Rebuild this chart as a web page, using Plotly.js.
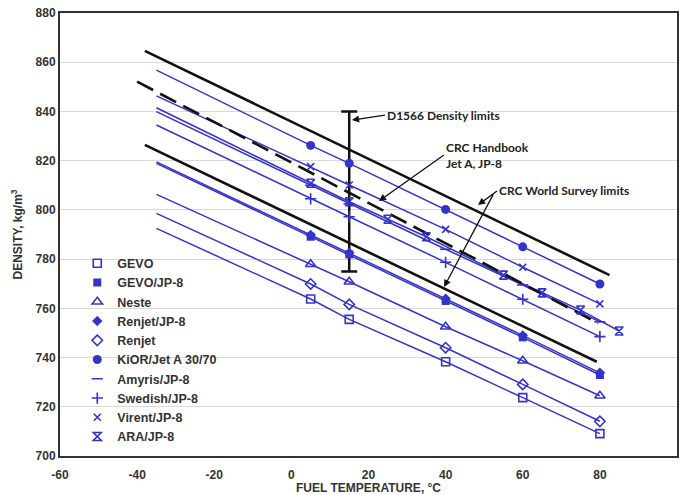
<!DOCTYPE html>
<html><head><meta charset="utf-8">
<script src="https://cdn.plot.ly/plotly-3.0.1.min.js"></script>
<style>html,body{margin:0;padding:0;background:#fff}#chart{width:685px;height:495px}</style>
</head><body><div id="chart"></div>
<script>
// ---- data ----
const temps = [5, 15, 40, 60, 80];
const gevo      = [763.8, 755.5, 738.3, 723.7, 709.1];
const gevoJP8   = [789.1, 781.9, 763.0, 748.2, 732.9];
const neste     = [777.9, 770.8, 752.5, 738.7, 724.5];
const renjetJP8 = [789.8, 782.6, 763.9, 749.0, 733.8];
const renjet    = [769.9, 761.6, 744.0, 729.1, 714.1];
const kior      = [826.2, 818.9, 800.2, 785.0, 769.9];
const amyris    = [810.0, 802.5, 784.0, 769.5, 754.5];
const swedish   = [804.5, 797.2, 778.7, 763.7, 748.5];
const virent    = [817.6, 810.1, 792.1, 776.7, 761.8];
const araTemps  = [5, 15, 25, 35, 55, 65, 75, 85];
const ara       = [810.8, 803.3, 796.2, 789.1, 773.5, 766.3, 759.3, 750.8];

// fitted-line start (extrapolated lines drawn in the source) at -35 °C
const lineStartT = -35;
const lineStart = {
  gevo: 792.5, gevoJP8: 818.9, neste: 806.3, renjetJP8: 819.5, renjet: 798.6,
  kior: 856.8, amyris: 839.9, swedish: 834.5, virent: 846.3, ara: 841.5
};

// CRC limits
const crcUpperT = [-38, 82.5], crcUpper = [864.6, 773.5];
const crcLowerT = [-38, 79.2], crcLower = [826.4, 738.3];
const handbookT = [-40, 79.6], handbook = [852.1, 753.9];
// D1566 density limits bar
const d1566T = 15, d1566Low = 775, d1566High = 840;

const seriesNames = ['GEVO','GEVO/JP-8','Neste','Renjet/JP-8','Renjet','KiOR/Jet A 30/70','Amyris/JP-8','Swedish/JP-8','Virent/JP-8','ARA/JP-8'];
const xTickVals = [-60, -40, -20, 0, 20, 40, 60, 80, 100];
const xTickText = ['-60', '-40', '-20', '0', '20', '40', '60', '80', '100'];

// ---- styles ----
const BLUE = '#3434cc';
const series = [
  {key:'gevo', name:seriesNames[0], x:temps, y:gevo, sym:'square-open', size:8},
  {key:'gevoJP8', name:seriesNames[1], x:temps, y:gevoJP8, sym:'square', size:8},
  {key:'neste', name:seriesNames[2], x:temps, y:neste, sym:'triangle-up-open', size:9},
  {key:'renjetJP8', name:seriesNames[3], x:temps, y:renjetJP8, sym:'diamond', size:8},
  {key:'renjet', name:seriesNames[4], x:temps, y:renjet, sym:'diamond-open', size:8},
  {key:'kior', name:seriesNames[5], x:temps, y:kior, sym:'circle', size:9},
  {key:'amyris', name:seriesNames[6], x:temps, y:amyris, sym:'line-ew', size:8},
  {key:'swedish', name:seriesNames[7], x:temps, y:swedish, sym:'cross-thin', size:8},
  {key:'virent', name:seriesNames[8], x:temps, y:virent, sym:'x-thin', size:7},
  {key:'ara', name:seriesNames[9], x:araTemps, y:ara, sym:'hourglass-open', size:8}
];

const traces = [];
// blue lines
series.forEach(s => {
  traces.push({
    type:'scatter', mode:'lines', showlegend:false, hoverinfo:'skip',
    x:[lineStartT].concat(s.x), y:[lineStart[s.key]].concat(s.y),
    line:{color:BLUE, width:1.5}
  });
});
// black limit lines
traces.push({type:'scatter', mode:'lines', showlegend:false, x:crcUpperT, y:crcUpper, line:{color:'#111', width:2.6}});
traces.push({type:'scatter', mode:'lines', showlegend:false, x:crcLowerT, y:crcLower, line:{color:'#111', width:2.6}});
traces.push({type:'scatter', mode:'lines', showlegend:false, x:handbookT, y:handbook, line:{color:'#111', width:2.6, dash:'18px,8px'}});
// D1566 bar
traces.push({type:'scatter', mode:'markers', showlegend:false,
  x:[d1566T], y:[(d1566Low + d1566High)/2],
  marker:{size:1, opacity:0},
  error_y:{type:'data', symmetric:true, array:[(d1566High - d1566Low)/2], color:'#111', thickness:2.5, width:8}
});
// markers (legend)
series.forEach(s => {
  const open = /open|thin|line/.test(s.sym);
  traces.push({
    type:'scatter', mode:'markers', name:s.name, x:s.x, y:s.y,
    marker:{symbol:s.sym, size:s.size, color:BLUE, line:{color:BLUE, width: open ? 1.6 : 0}}
  });
});

const FONT_ANN = {family:'Lato, "Open Sans", sans-serif', size:12, color:'#222', weight:700};
const arrowStyle = {arrowhead:2, arrowsize:1.1, arrowwidth:1.3, arrowcolor:'#111'};

const layout = {
  width:685, height:495,
  margin:{l:60, r:8, t:13, b:39},
  paper_bgcolor:'#fff', plot_bgcolor:'#fff',
  font:{family:'"Liberation Sans", Arial, sans-serif', size:12, color:'#222'},
  xaxis:{range:[-60,100], tickmode:'array', tickvals:xTickVals, ticktext:xTickText, showgrid:false, zeroline:false,
    showline:true, mirror:true, linecolor:'#333', linewidth:2, ticks:'', ticklabelstandoff:7,
    tickfont:{size:12, weight:700, color:'#333'},
    title:{text:'FUEL TEMPERATURE, °C', font:{size:12, weight:700, color:'#333'}, standoff:0}},
  yaxis:{range:[700,880], dtick:20, showgrid:true, gridcolor:'#d9d9d9', gridwidth:1, zeroline:false,
    showline:true, mirror:true, linecolor:'#333', linewidth:2, ticks:'',
    tickfont:{size:12, weight:700, color:'#333'},
    title:{text:'DENSITY, kg/m<sup>3</sup>', font:{size:12, weight:700, color:'#333'}, standoff:10}},
  showlegend:true,
  legend:{x:0.028, y:0.468, xanchor:'left', yanchor:'top', bgcolor:'rgba(0,0,0,0)',
    font:{size:12.5, weight:700, color:'#333'}, itemwidth:30, tracegroupgap:0},
  annotations:[
    Object.assign({x:15.7, y:836.5, xref:'x', yref:'y', text:'D1566 Density limits', showarrow:true,
      ax:33, ay:-5, xanchor:'left', yanchor:'middle', font:FONT_ANN}, arrowStyle),
    Object.assign({x:22.7, y:803.6, xref:'x', yref:'y', text:'CRC Handbook<br>Jet A, JP-8', showarrow:true,
      ax:65, ay:-46, xanchor:'left', yanchor:'middle', align:'left', font:FONT_ANN}, arrowStyle),
    Object.assign({x:48.4, y:802.0, xref:'x', yref:'y', text:'CRC World Survey limits', showarrow:true,
      ax:19, ay:-14, xanchor:'left', yanchor:'middle', font:FONT_ANN}, arrowStyle),
    Object.assign({x:39.6, y:768.7, xref:'x', yref:'y', text:'', showarrow:true,
      ax:50, ay:-94}, arrowStyle)
  ]
};

Plotly.newPlot('chart', traces, layout, {displayModeBar:false, staticPlot:true});
</script>
</body></html>
